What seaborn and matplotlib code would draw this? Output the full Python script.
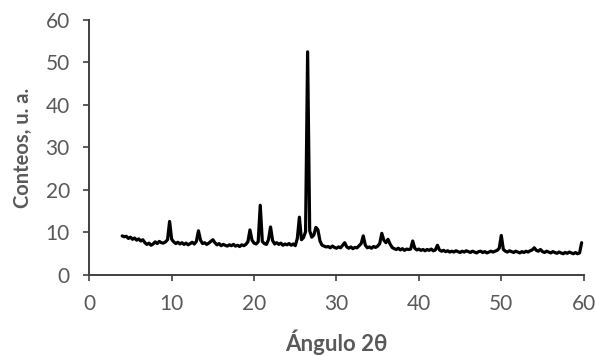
import numpy as np
import pandas as pd
import seaborn as sns
import matplotlib.pyplot as plt

# XRD scan, 2theta from 4.0 deg in 0.25 deg steps
start_angle = 4.0
step = 0.25
counts = [
    9.2, 9.0, 9.1, 8.6, 8.9, 8.4, 8.7, 8.2, 8.5, 8.0, 8.3, 7.6, 7.2, 7.5, 7.0, 7.3, 7.8, 7.4, 7.9, 7.6,   # 4.00-8.75
    7.5, 7.8, 8.3, 12.6, 8.4, 7.8, 7.4, 7.7, 7.3, 7.6, 7.2, 7.5, 7.1, 7.4, 7.7, 7.3, 7.9, 10.4, 8.2, 7.4,  # 9.00-13.75
    7.6, 7.2, 7.5, 7.9, 8.3, 7.6, 7.1, 7.4, 6.9, 7.2, 7.0, 6.8, 7.1, 6.9, 7.2, 6.8, 7.0, 6.7, 7.1, 6.9,   # 14.00-18.75
    7.2, 7.8, 10.6, 8.2, 7.5, 7.3, 7.8, 16.4, 7.9, 7.4, 7.2, 8.3, 11.3, 8.1, 7.3, 7.6, 7.2, 7.5, 7.0, 7.3,  # 19.00-23.75
    7.1, 7.4, 7.0, 7.3, 6.9, 8.6, 13.6, 8.3, 8.8, 10.2, 52.5, 10.4, 8.9, 9.4, 11.2, 10.6, 8.0, 7.0, 6.8, 6.6,  # 24.00-28.75
    6.7, 6.4, 6.8, 6.5, 6.3, 6.6, 6.4, 7.0, 7.6, 6.6, 6.3, 6.6, 6.2, 6.5, 6.4, 6.9, 7.4, 9.2, 7.0, 6.4,   # 29.00-33.75
    6.6, 6.3, 6.7, 6.5, 6.8, 7.4, 9.8, 8.2, 7.6, 8.4, 7.3, 6.5, 6.2, 6.0, 6.3, 5.9, 6.2, 5.8, 6.1, 6.0,   # 34.00-38.75
    6.1, 8.0, 6.3, 5.9, 6.1, 5.8, 6.0, 5.7, 6.0, 5.8, 6.1, 5.7, 5.9, 7.0, 5.9, 5.6, 5.8, 5.5, 5.7, 5.4,   # 39.00-43.75
    5.6, 5.4, 5.7, 5.5, 5.3, 5.6, 5.4, 5.7, 5.5, 5.3, 5.6, 5.4, 5.2, 5.5, 5.6, 5.3, 5.5, 5.2, 5.4, 5.6,   # 44.00-48.75
    5.4, 5.6, 5.8, 6.3, 9.3, 6.0, 5.6, 5.4, 5.7, 5.5, 5.3, 5.6, 5.4, 5.2, 5.5, 5.3, 5.6, 5.4, 5.7, 5.9,   # 49.00-53.75
    6.4, 5.8, 5.6, 6.0, 5.5, 5.3, 5.6, 5.4, 5.2, 5.5, 5.3, 5.1, 5.4, 5.2, 5.0, 5.3, 5.1, 5.4, 5.2, 5.0,   # 54.00-58.75
    5.3, 5.0, 5.2, 7.6,                                                                                   # 59.00-59.75
]
angles = start_angle + step * np.arange(len(counts))

x_ticks = [0, 10, 20, 30, 40, 50, 60]
y_ticks = [0, 10, 20, 30, 40, 50, 60]

df = pd.DataFrame({"angle": angles, "counts": counts})

sns.set_style("ticks")
plt.rcParams['font.family'] = ['Lato', 'Open Sans', 'DejaVu Sans']

fig = plt.figure(figsize=(5.95, 3.56), dpi=100)
ax = fig.add_axes([0.150, 0.2275, 0.831, 0.7165])

sns.lineplot(data=df, x="angle", y="counts", color="black", linewidth=2.3, ax=ax)

ax.set_xlim(0, 60)
ax.set_ylim(0, 60)
ax.set_xticks(x_ticks)
ax.set_yticks(y_ticks)
ax.tick_params(axis="both", labelsize=15, colors="#404040", labelcolor="#595959",
               length=4, width=1.2, pad=10)
for side in ["left", "bottom"]:
    ax.spines[side].set_color("#404040")
    ax.spines[side].set_linewidth(1.4)
sns.despine(ax=ax)

ax.set_xlabel("Ángulo 2θ", fontsize=16, fontweight="bold", color="#595959", labelpad=11)
ax.set_ylabel("Conteos, u. a.", fontsize=14.5, fontweight="bold", color="#595959", labelpad=9)

fig.savefig("out.png", dpi=100)
